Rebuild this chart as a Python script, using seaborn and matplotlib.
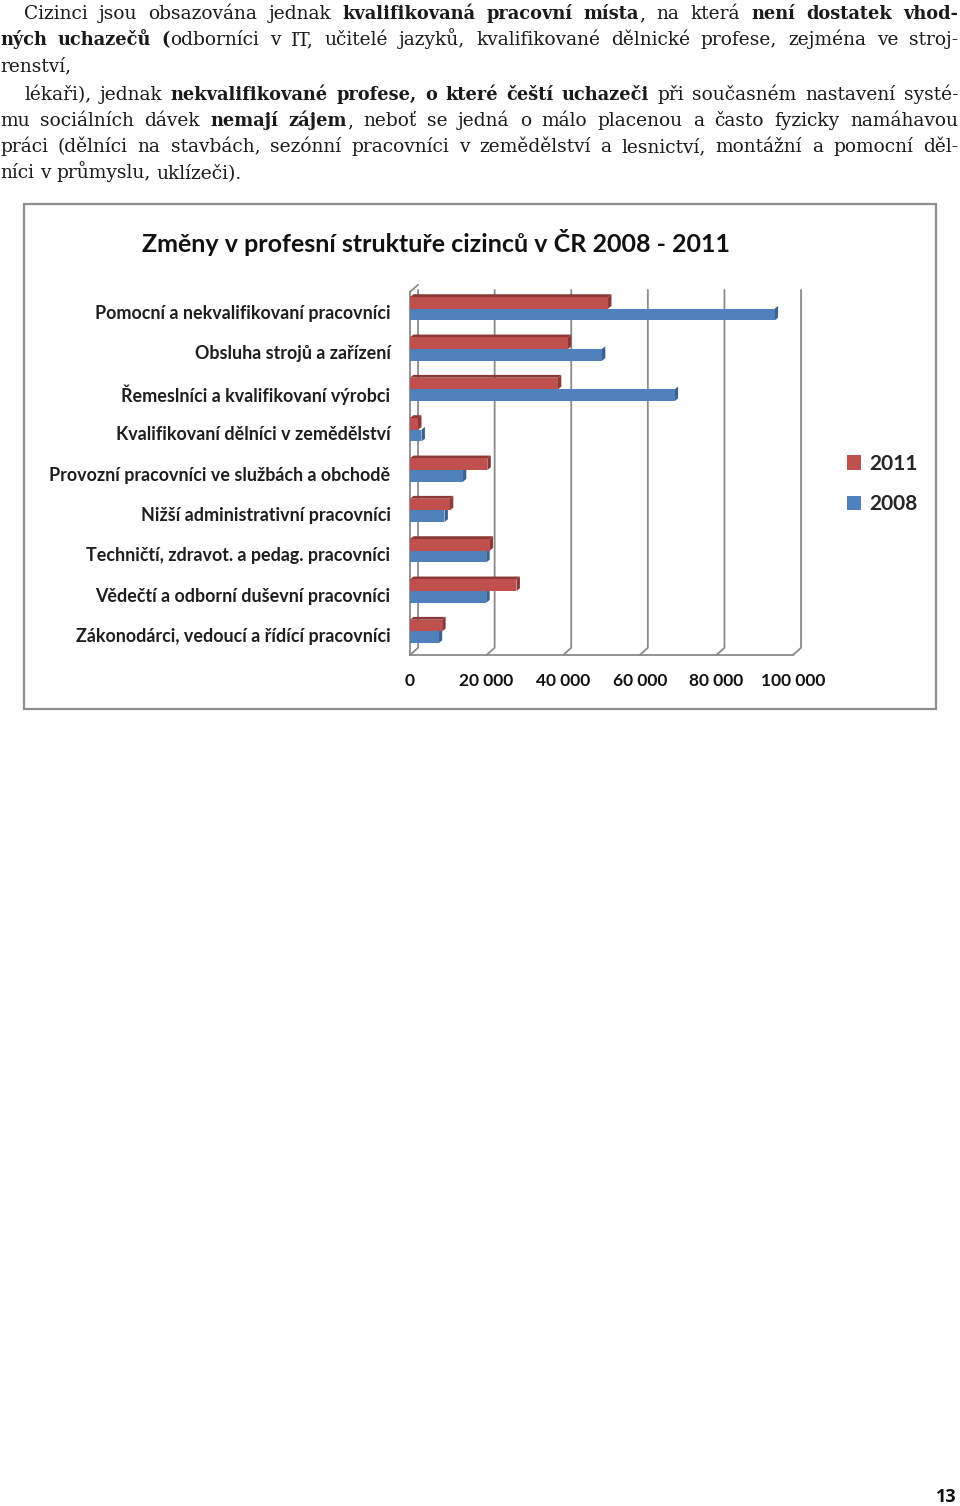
import matplotlib
matplotlib.use("Agg")
import matplotlib.pyplot as plt
from matplotlib.patches import Rectangle, Polygon, Patch
import seaborn as sns
import pandas as pd

# ---------------- data ----------------
categories = [
    "Pomocní a nekvalifikovaní pracovníci",
    "Obsluha strojů a zařízení",
    "Řemeslníci a kvalifikovaní výrobci",
    "Kvalifikovaní dělníci v zemědělství",
    "Provozní pracovníci ve službách a obchodě",
    "Nižší administrativní pracovníci",
    "Techničtí, zdravot. a pedag. pracovníci",
    "Vědečtí a odborní duševní pracovníci",
    "Zákonodárci, vedoucí a řídící pracovníci",
]
values_2011 = [51700, 41200, 38600, 2100, 20200, 10400, 20800, 27800, 8400]
values_2008 = [95200, 50100, 69100, 3000, 13800, 9000, 19900, 19900, 7500]
years = ["2011", "2008"]
colors = ["#C0504D", "#4F81BD"]
dark_colors = ["#8C3836", "#3A6391"]
xticks = [0, 20000, 40000, 60000, 80000, 100000]
xtick_labels = ["0", "20 000", "40 000", "60 000", "80 000", "100 000"]
title = "Změny v profesní struktuře cizinců v ČR 2008 - 2011"

paragraph = [
    (24, True, "Cizinci jsou obsazována jednak **kvalifikovaná pracovní místa**, na která **není dostatek vhod-**"),
    (0, True, "**ných uchazečů (**odborníci v IT, učitelé jazyků, kvalifikované dělnické profese, zejména ve stroj-"),
    (0, False, "renství,"),
    (24, True, "lékaři), jednak **nekvalifikované profese, o které čeští uchazeči** při současném nastavení systé-"),
    (0, True, "mu sociálních dávek **nemají zájem**, neboť se jedná o málo placenou a často fyzicky namáhavou"),
    (0, True, "práci (dělníci na stavbách, sezónní pracovníci v zemědělství a lesnictví, montážní a pomocní děl-"),
    (0, False, "níci v průmyslu, uklízeči)."),
]
baselines = [19, 45, 71, 100, 126, 152, 178]

df = pd.DataFrame({
    "cat": categories * 2,
    "value": values_2011 + values_2008,
    "year": [years[0]] * len(categories) + [years[1]] * len(categories),
})

W, H = 960, 1506
fig = plt.figure(figsize=(W / 100, H / 100), dpi=100)
sns.set_style("white")
plt.rcParams["font.family"] = ["Lato", "DejaVu Sans"]

def fx(px):
    return px / W

def fy(py):
    return 1 - py / H

# ---------------- paragraph (justified) ----------------
renderer = fig.canvas.get_renderer()
txt_color = "#1a1a1a"
serif = ["DejaVu Serif"]
fs_reg, fs_bold = 13.4, 12.8

def parse_words(s):
    parts = s.split("**")
    pieces = []
    for i, p in enumerate(parts):
        if p:
            pieces.append((p, i % 2 == 1))
    words = [[]]
    for text, bold in pieces:
        chunks = text.split(" ")
        for j, ch in enumerate(chunks):
            if j > 0:
                words.append([])
            if ch:
                words[-1].append((ch, bold))
    return [w for w in words if w]

def style(bold):
    return dict(fontsize=fs_bold if bold else fs_reg, family=serif,
                fontweight="bold" if bold else "normal")

def measure(text, bold):
    t = fig.text(0, 0, text, **style(bold))
    w = t.get_window_extent(renderer).width
    t.remove()
    return w

space_w = measure("a a", False) - 2 * measure("a", False)
right_edge = 958
for (indent, justify, s), base in zip(paragraph, baselines):
    words = parse_words(s)
    widths = []
    for w in words:
        widths.append(sum(measure(t, b) for t, b in w))
    if justify and len(words) > 1:
        gap = (right_edge - indent - sum(widths)) / (len(words) - 1)
    else:
        gap = space_w
    x = indent
    for w, ww in zip(words, widths):
        xx = x
        for t, b in w:
            fig.text(fx(xx), fy(base), t, color=txt_color, va="baseline", ha="left", **style(b))
            xx += measure(t, b)
        x += ww + gap

# ---------------- chart frame ----------------
fig.patches.append(Rectangle((fx(24), fy(709)), fx(936) - fx(24), fy(204) - fy(709),
                             transform=fig.transFigure, facecolor="white",
                             edgecolor="#8f8f8f", lw=1.6, zorder=-5))
fig.text(fx(436), fy(243), title, fontsize=18, fontweight="bold",
         ha="center", va="center", color="#111111")

# ---------------- axes ----------------
ax_left, ax_right = 410, 793
ax_top, ax_bot = 292, 655
ax = fig.add_axes([fx(ax_left), fy(ax_bot), fx(ax_right) - fx(ax_left), fy(ax_top) - fy(ax_bot)])
ax.set_zorder(2)
ax.set_facecolor("none")

sns.barplot(data=df, y="cat", x="value", hue="year", hue_order=years,
            palette=colors, orient="h", width=0.58, legend=False,
            saturation=1, ax=ax, zorder=3, edgecolor="none")

ax.set_xlim(0, 100000)
ax.set_ylim(len(categories) - 0.5, -0.5)
ax.set_xlabel("")
ax.set_ylabel("")

grid_col = "#8a8a8a"
ybot, ytop = ax.get_ylim()
dxg, dyg = 2100, 0.18
for v in xticks:
    ax.plot([v, v + dxg, v + dxg], [ybot, ybot - dyg, ytop - 0.05],
            color=grid_col, lw=1.3, clip_on=False, zorder=1)
ax.plot([0, dxg], [ytop, ytop - dyg], color=grid_col, lw=1.3, clip_on=False, zorder=1)

# perspective: bars sit slightly back in depth -> raise them a little, add 3D faces
lift = 0.085
dx, dy = 900, 0.07
red_key = tuple(round(c, 3) for c in matplotlib.colors.to_rgb(colors[0]))
color_map = {tuple(round(c, 3) for c in matplotlib.colors.to_rgb(c1)): c2
             for c1, c2 in zip(colors, dark_colors)}
for p in list(ax.patches):
    p.set_y(p.get_y() - lift)
    x0, y0, w, h = p.get_x(), p.get_y(), p.get_width(), p.get_height()
    key = tuple(round(c, 3) for c in p.get_facecolor()[:3])
    dark = color_map.get(key, "#555555")
    side = Polygon([(x0 + w, y0), (x0 + w + dx, y0 - dy), (x0 + w + dx, y0 + h - dy), (x0 + w, y0 + h)],
                   closed=True, facecolor=dark, edgecolor="none", zorder=2.9)
    ax.add_patch(side)
    if key == red_key:
        top = Polygon([(x0, y0), (x0 + dx, y0 - dy), (x0 + w + dx, y0 - dy), (x0 + w, y0)],
                      closed=True, facecolor=dark, edgecolor="none", zorder=2.9)
        ax.add_patch(top)

for s in ["top", "right"]:
    ax.spines[s].set_visible(False)
for s in ["left", "bottom"]:
    ax.spines[s].set_color(grid_col)
    ax.spines[s].set_linewidth(1.3)

ax.set_xticks(xticks)
ax.set_xticklabels(xtick_labels, fontsize=12.5, fontweight="bold", color="#111111")
ax.tick_params(axis="x", direction="out", length=4, width=1.2, color=grid_col, pad=9)
ax.set_yticks(range(len(categories)))
ax.set_yticklabels(categories, fontsize=12.9, fontweight="bold", color="#1e1e1e")
ax.tick_params(axis="y", which="major", length=0, pad=14)
ax.set_yticks([i - 0.5 for i in range(len(categories) + 1)], minor=True)
ax.tick_params(axis="y", which="minor", direction="out", length=4, width=1.2, color=grid_col)
ax.grid(False)

# legend
handles = [Patch(facecolor=c, edgecolor="none") for c in colors]
leg = fig.legend(handles, years, loc="center left", bbox_to_anchor=(fx(828), fy(484)),
                 frameon=False, prop={"family": "Lato", "weight": "bold", "size": 15},
                 handlelength=0.7, handleheight=0.7, handletextpad=0.4, labelspacing=1.0)

fig.text(fx(957), fy(1497), "13", fontsize=13, fontweight="bold", family=["Open Sans", "DejaVu Sans"],
         ha="right", va="center", color="#111111")

fig.savefig("out.png", dpi=100)
